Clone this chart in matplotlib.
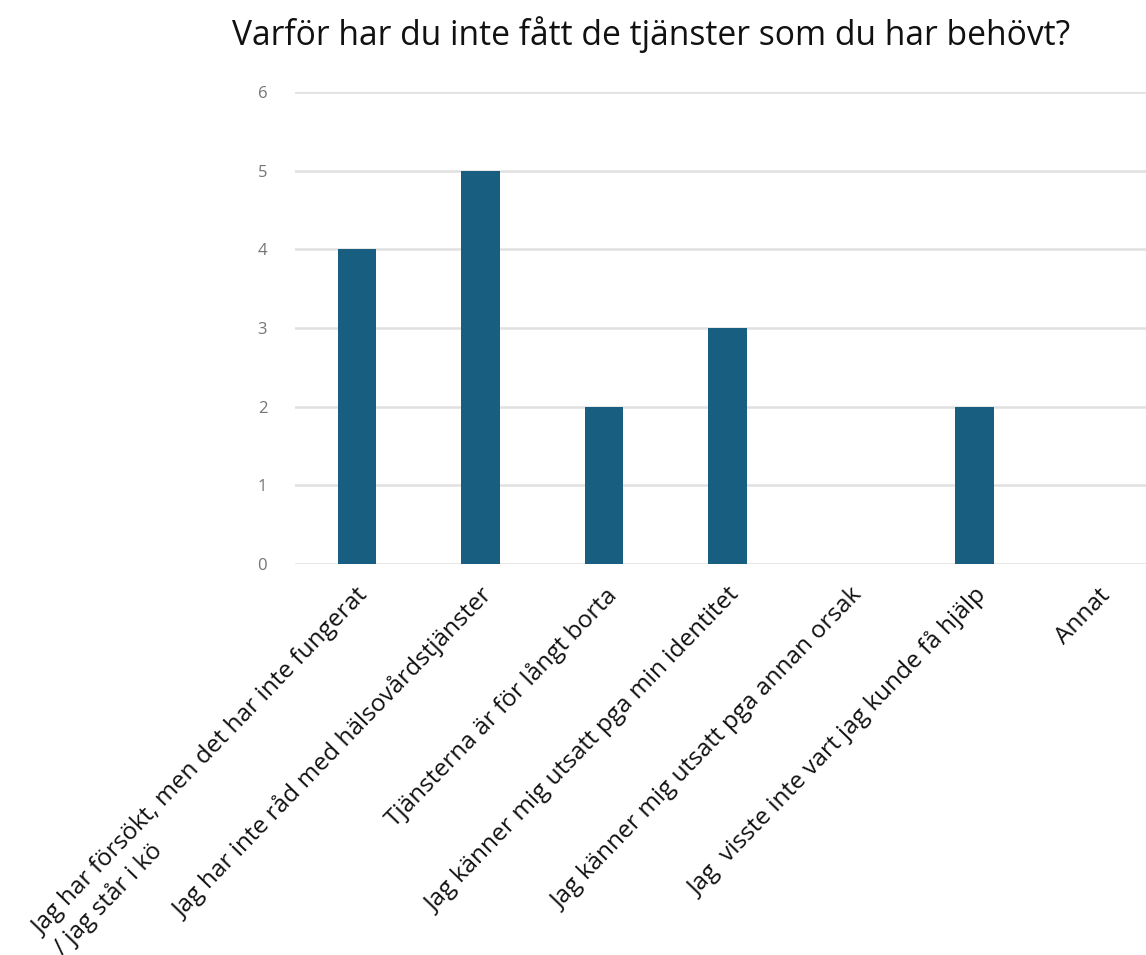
import matplotlib
matplotlib.use("Agg")
import matplotlib.pyplot as plt

categories = [
    "Jag har försökt, men det har inte fungerat\n/ jag står i kö",
    "Jag har inte råd med hälsovårdstjänster",
    "Tjänsterna är för långt borta",
    "Jag känner mig utsatt pga min identitet",
    "Jag känner mig utsatt pga annan orsak",
    "Jag  visste inte vart jag kunde få hjälp",
    "Annat",
]
values = [4, 5, 2, 3, 0, 2, 0]
yticks = [0, 1, 2, 3, 4, 5, 6]
title = "Varför har du inte fått de tjänster som du har behövt?"

W, H = 1146, 955
fig = plt.figure(figsize=(W / 100, H / 100), dpi=100)
ax_left, ax_right = 295 / W, 1160 / W
ax_bottom, ax_top = 1 - 564 / H, 1 - 92 / H
ax = fig.add_axes([ax_left, ax_bottom, ax_right - ax_left, ax_top - ax_bottom])

x = list(range(len(categories)))
ax.bar(x, values, width=0.31, color="#175e80", zorder=3)
ax.set_xlim(-0.5, len(categories) - 0.5)
ax.set_ylim(0, 6)
ax.set_yticks(yticks)
ax.set_yticklabels([str(v) for v in yticks], fontsize=12, color="#757575",
                   family=["Open Sans", "DejaVu Sans"])
ax.yaxis.grid(True, color="#e0e0e0", linewidth=1.8, zorder=0)
ax.tick_params(axis="y", length=0, pad=20)
ax.tick_params(axis="x", length=0, pad=14)
for s in ax.spines.values():
    s.set_visible(False)

ax.set_xticks(x)
ax.set_xticklabels(categories, rotation=46, ha="right", va="top",
                   rotation_mode="anchor", fontsize=17.6, color="#111111",
                   family=["Open Sans", "DejaVu Sans"], multialignment="left")

fig.text(0.568, 1 - 35 / H, title, ha="center", va="center", fontsize=24.2,
         color="#111111", family=["Open Sans", "DejaVu Sans"])

fig.savefig("out.png", dpi=100)
